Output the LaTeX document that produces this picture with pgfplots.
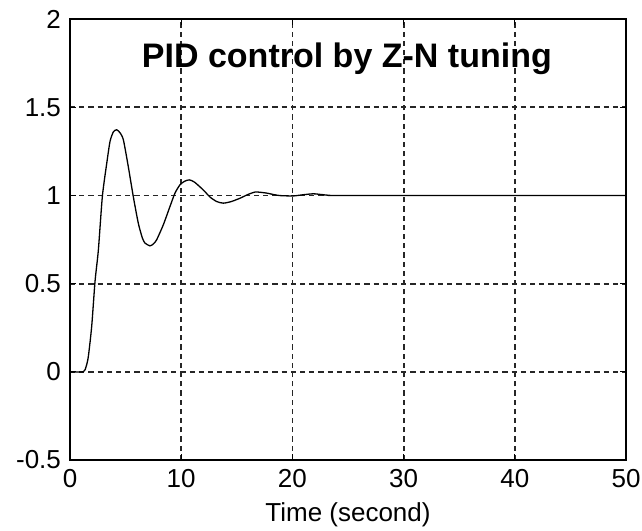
\documentclass[border=0pt]{standalone}
\usepackage{pgfplots}
\pgfplotsset{compat=1.18}
\usetikzlibrary{calc}
\usepackage{fontspec}
\setmainfont{Liberation Sans}
\begin{document}
\begin{tikzpicture}
\begin{axis}[
  scale only axis,
  width=278pt, height=220.5pt,
  xmin=0, xmax=50, ymin=-0.5, ymax=2,
  xtick={0,10,20,30,40,50},
  ytick={-0.5,0,0.5,1,1.5,2},
  yticklabels={{-0.5},{0},{0.5},{1},{1.5},{2}},
  xticklabels={{0},{10},{20},{30},{40},{50}},
  tick label style={font=\fontsize{13}{15}\selectfont, black},
  yticklabel style={xshift=-1pt},
  xticklabel style={yshift=-1pt},
  tick align=inside,
  major tick length=3pt,
  tick style={black, line width=0.5pt},
  axis line style={black, line width=0.6pt},
  grid=major,
  major grid style={black!85, line width=0.9pt, dash pattern=on 2.6pt off 2pt},
  xlabel={Time (second)},
  xlabel style={font=\fontsize{13}{15}\selectfont, at={(0.5,0)}, anchor=base, yshift=-30.5pt},
]
\addplot[black, line width=0.65pt, smooth, tension=0.4] coordinates {
(0,0) (1.2,0) (1.45,0.03) (1.65,0.087) (1.95,0.257) (2.25,0.512) (2.55,0.69)
(2.91,0.994) (3.3,1.18) (3.6,1.306) (3.9,1.36) (4.2,1.372) (4.5,1.355)
(4.8,1.315) (5.24,1.164) (5.69,0.994) (6.14,0.843) (6.5,0.76) (6.74,0.73)
(7.19,0.714) (7.5,0.725) (7.79,0.748) (8.39,0.833) (8.99,0.937) (9.44,1.013)
(9.89,1.06) (10.3,1.08) (10.73,1.088) (11.2,1.075) (12.0,1.03) (12.6,0.99)
(13.2,0.965) (13.79,0.956) (14.5,0.965) (15.29,0.984) (16.0,1.005)
(16.64,1.019) (17.2,1.017) (17.69,1.013) (18.3,1.005) (18.88,0.999)
(20.08,0.997) (21.0,1.004) (21.88,1.009) (22.6,1.005) (23.4,1.0) (25,1.0) (50,1.0)
};
\node[anchor=base, font=\fontsize{17}{20}\selectfont\bfseries] at (axis cs:24.9,1.723) {PID control by Z-N tuning};
\coordinate (sw) at (rel axis cs:0,0);
\coordinate (ne) at (rel axis cs:1,1);
\end{axis}
\pgfresetboundingbox
\path ($(sw)+(-35pt,-35pt)$) rectangle ($(ne)+(8pt,9.5pt)$);
\end{tikzpicture}
\end{document}
